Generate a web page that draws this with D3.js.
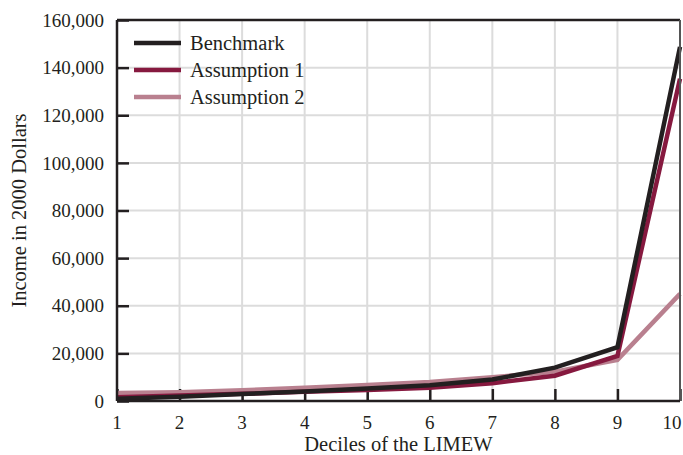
<!DOCTYPE html>
<meta charset="utf-8">
<style>
    body { margin: 0; background: #fff; }
    text { font-family: "Liberation Serif", "DejaVu Serif", serif; fill: #231f20; }
    .grid line { stroke: #dcdcdc; stroke-width: 2; }
    .axis path { display: none; }
    .axis line { stroke: #231f20; stroke-width: 2.5; }
    .series { fill: none; stroke-linejoin: miter; }
</style>
<body>
<script src="https://d3js.org/d3.v7.min.js"></script>
<script>

    var deciles = [1, 2, 3, 4, 5, 6, 7, 8, 9, 10];
    var benchmark = [900, 1800, 2900, 4000, 5200, 6600, 9000, 14000, 22600, 148700];
    var assumption1 = [1600, 2300, 3000, 3900, 4600, 5600, 7500, 10600, 18900, 135300];
    var assumption2 = [3400, 3700, 4500, 5600, 6700, 8000, 10000, 12300, 17300, 45000];
    var yTicks = [0, 20000, 40000, 60000, 80000, 100000, 120000, 140000, 160000];

    var seriesNames = ["Benchmark", "Assumption 1", "Assumption 2"];
    var seriesValues = [benchmark, assumption1, assumption2];
    var colors = ["#231f20", "#86193f", "#b9808f"];
    var widths = [4.5, 4.5, 4.5];

    var margin = {top: 20, right: 3, bottom: 54, left: 117},
            width = 683 - margin.left - margin.right,
            height = 455 - margin.top - margin.bottom;

    var x = d3.scaleLinear().domain([1, 10]).range([0, width]);
    var y = d3.scaleLinear().domain([0, 160000]).range([height, 0]);

    var svg = d3.select("body").append("svg")
            .attr("width", 683)
            .attr("height", 455)
            .append("g")
            .attr("transform", "translate(" + margin.left + "," + margin.top + ")");

    // grid
    var grid = svg.append("g").attr("class", "grid");
    grid.selectAll("line.v").data(deciles.slice(1, 9)).enter().append("line")
            .attr("x1", function(d) { return x(d); })
            .attr("x2", function(d) { return x(d); })
            .attr("y1", 0).attr("y2", height);
    grid.selectAll("line.h").data(yTicks.slice(1, 8)).enter().append("line")
            .attr("x1", 0).attr("x2", width)
            .attr("y1", function(d) { return y(d); })
            .attr("y2", function(d) { return y(d); });

    // ticks pointing inwards
    svg.append("g").attr("class", "axis")
            .call(d3.axisLeft(y).tickValues(yTicks).tickSize(-12).tickFormat(""));
    svg.append("g").attr("class", "axis")
            .attr("transform", "translate(0," + height + ")")
            .call(d3.axisBottom(x).tickValues(deciles).tickSize(-12).tickFormat(""));

    // tick labels
    svg.selectAll("text.ylab").data(yTicks).enter().append("text")
            .attr("class", "ylab")
            .attr("x", -13)
            .attr("y", function(d) { return y(d); })
            .attr("dy", "0.35em")
            .attr("text-anchor", "end")
            .style("font-size", "19px")
            .text(d3.format(","));

    svg.selectAll("text.xlab").data(deciles).enter().append("text")
            .attr("class", "xlab")
            .attr("x", function(d) { return d === 10 ? x(d) - 8 : x(d); })
            .attr("y", height + 28)
            .attr("text-anchor", "middle")
            .style("font-size", "19px")
            .text(function(d) { return d; });

    // lines
    var line = d3.line()
            .x(function(d, i) { return x(deciles[i]); })
            .y(function(d) { return y(d); });

    [2, 1, 0].forEach(function(k) {
        svg.append("path")
                .attr("class", "series")
                .attr("d", line(seriesValues[k]))
                .attr("stroke", colors[k])
                .attr("stroke-width", widths[k]);
    });

    // frame
    svg.append("line").attr("x1", 0).attr("x2", width).attr("y1", 0).attr("y2", 0)
            .attr("stroke", "#231f20").attr("stroke-width", 2.5);
    svg.append("line").attr("x1", width).attr("x2", width).attr("y1", 0).attr("y2", height)
            .attr("stroke", "#555").attr("stroke-width", 2);
    svg.append("line").attr("x1", 0).attr("x2", 0).attr("y1", 0).attr("y2", height)
            .attr("stroke", "#231f20").attr("stroke-width", 2.5);
    svg.append("line").attr("x1", 0).attr("x2", width).attr("y1", height).attr("y2", height)
            .attr("stroke", "#231f20").attr("stroke-width", 2.5);

    // legend
    var legend = svg.selectAll("g.legend").data(seriesNames).enter().append("g")
            .attr("class", "legend")
            .attr("transform", function(d, i) { return "translate(17," + (23 + i * 27) + ")"; });
    legend.append("line")
            .attr("x1", 0).attr("x2", 47)
            .attr("stroke", function(d, i) { return colors[i]; })
            .attr("stroke-width", 4.5);
    legend.append("text")
            .attr("x", 56)
            .attr("dy", "0.35em")
            .style("font-size", "20.5px")
            .text(function(d) { return d; });

    // axis titles
    svg.append("text")
            .attr("x", width / 2 + 0)
            .attr("y", height + 50)
            .attr("text-anchor", "middle")
            .style("font-size", "20.5px")
            .text("Deciles of the LIMEW");
    svg.append("text")
            .attr("transform", "translate(" + (-91) + "," + (height / 2) + ") rotate(-90)")
            .attr("text-anchor", "middle")
            .style("font-size", "20.5px")
            .text("Income in 2000 Dollars");

</script>
